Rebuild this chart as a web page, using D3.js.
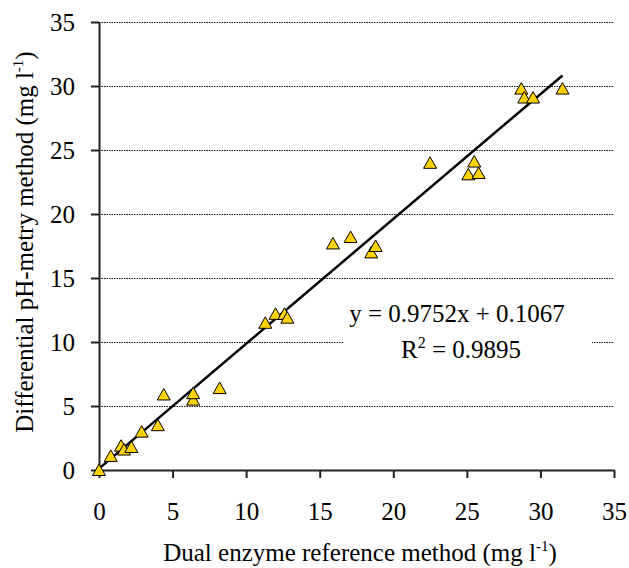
<!DOCTYPE html>
<html>
<head>
<meta charset="utf-8">
<title>Differential pH-metry vs dual enzyme method</title>
<script src="https://d3js.org/d3.v7.min.js"></script>
<style>
  body { margin: 0; background: #fff; }
</style>
</head>
<body>
<div id="chart"></div>
<script>
// measured values (mg l-1)
var refMethod = [0, 0.8, 1.5, 1.7, 2.2, 2.9, 4.0, 4.4, 6.4, 6.4, 8.2, 11.3, 12.0, 12.6, 12.8,
                 15.9, 17.1, 18.5, 18.8, 22.5, 25.1, 25.5, 25.8, 28.7, 28.9, 29.5, 31.5];
var phMethod  = [0, 1.1, 1.9, 1.6, 1.8, 3.0, 3.5, 5.9, 5.5, 6.0, 6.4, 11.5, 12.2, 12.2, 11.9,
                 17.7, 18.2, 17.0, 17.5, 24.0, 23.1, 24.1, 23.2, 29.8, 29.1, 29.1, 29.8];
var ticks = [0, 5, 10, 15, 20, 25, 30, 35];
var slope = 0.9752, intercept = 0.1067, r2 = 0.9895;

var serif = "'Liberation Serif', 'Times New Roman', Times, serif";
var w = 629, h = 568;
var svg = d3.select("#chart").append("svg")
	.attr("width", w)
	.attr("height", h)
	.style("font-family", serif);

var x = d3.scaleLinear().domain([0, 35]).range([99, 614]);
var y = d3.scaleLinear().domain([0, 35]).range([470, 22]);

// dotted gridlines
svg.append("g").selectAll("line")
	.data(ticks.filter(function(t) { return t > 0; }))
	.enter().append("line")
	.attr("x1", x(0)).attr("x2", x(35))
	.attr("y1", function(d) { return Math.round(y(d)) + 0.5; })
	.attr("y2", function(d) { return Math.round(y(d)) + 0.5; })
	.attr("stroke", "#111")
	.attr("stroke-width", 1)
	.attr("stroke-dasharray", "1.5,1");

// axes
var xAxis = svg.append("g")
	.attr("transform", "translate(0," + y(0) + ")")
	.call(d3.axisBottom(x).tickValues(ticks).tickSize(8).tickSizeOuter(0).tickPadding(24));
var yAxis = svg.append("g")
	.attr("transform", "translate(" + x(0) + ",0)")
	.call(d3.axisLeft(y).tickValues(ticks).tickSize(8).tickSizeOuter(0).tickPadding(16));
[xAxis, yAxis].forEach(function(a) {
	a.attr("font-family", null).attr("font-size", null);
	a.selectAll("path, line").attr("stroke", "#222").attr("stroke-width", 2);
	a.selectAll("text")
		.style("font-family", serif)
		.style("font-size", "25px")
		.attr("fill", "#000");
});

// regression line
var xMax = d3.max(refMethod);
svg.append("line")
	.attr("x1", x(0)).attr("y1", y(intercept))
	.attr("x2", x(xMax)).attr("y2", y(slope * xMax + intercept))
	.attr("stroke", "#000")
	.attr("stroke-width", 2.5);

// equation box
var eq = svg.append("g");
eq.append("rect")
	.attr("x", 343).attr("y", 300).attr("width", 249).attr("height", 66)
	.attr("fill", "#fff");
eq.append("text")
	.attr("x", 457).attr("y", 322)
	.attr("text-anchor", "middle")
	.style("font-size", "25px")
	.text("y = " + slope.toFixed(4) + "x + " + intercept.toFixed(4));
var rt = eq.append("text")
	.attr("x", 461).attr("y", 358)
	.attr("text-anchor", "middle")
	.style("font-size", "25px");
rt.append("tspan").text("R");
rt.append("tspan").style("font-size", "16px").attr("dy", -10).text("2");
rt.append("tspan").attr("dy", 10).text(" = " + r2.toFixed(4));

// data points (triangles)
var data = refMethod.map(function(v, i) { return {x: v, y: phMethod[i]}; });
svg.append("g").selectAll("path")
	.data(data)
	.enter().append("path")
	.attr("d", function(d) {
		var cx = x(d.x), cy = y(d.y);
		return "M" + cx + "," + (cy - 6) + "L" + (cx + 6.5) + "," + (cy + 5.5) + "L" + (cx - 6.5) + "," + (cy + 5.5) + "Z";
	})
	.attr("fill", "#FFD200")
	.attr("stroke", "#000")
	.attr("stroke-width", 1);

// axis titles
var xt = svg.append("text")
	.attr("x", 360).attr("y", 561)
	.attr("text-anchor", "middle")
	.style("font-size", "25px");
xt.append("tspan").text("Dual enzyme reference method (mg l");
xt.append("tspan").style("font-size", "15px").attr("dy", -10).text("-1");
xt.append("tspan").attr("dy", 10).text(")");

var yt = svg.append("text")
	.attr("transform", "translate(33,242) rotate(-90)")
	.attr("text-anchor", "middle")
	.style("font-size", "25px");
yt.append("tspan").text("Differential pH-metry method (mg l");
yt.append("tspan").style("font-size", "15px").attr("dy", -10).text("-1");
yt.append("tspan").attr("dy", 10).text(")");
</script>
</body>
</html>
